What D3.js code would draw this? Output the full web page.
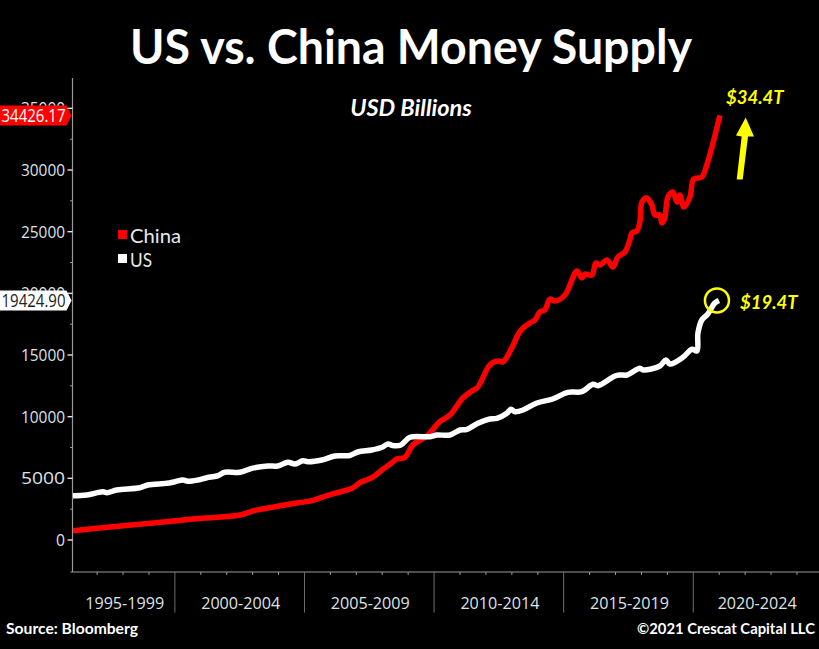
<!DOCTYPE html>
<html>
<head>
<meta charset="utf-8">
<script src="https://cdn.jsdelivr.net/npm/d3@7"></script>
<style>
  html, body { margin:0; padding:0; background:#000; overflow:hidden; }
  svg { display:block; }
  .tick-label { font-family:"Open Sans",sans-serif; fill:#dfe3e6; }
  .note { font-family:Lato,sans-serif; font-weight:700; fill:#fff; }
  .call { font-family:Lato,sans-serif; font-weight:700; font-style:italic; fill:#ffff00; font-size:18.5px; }
</style>
</head>
<body>
<div id="chart"></div>
<script>
// values, USD billions by decimal year
const chinaYears = [1996.07,1997.61,1999.15,2000.69,2002.51,2003.09,2003.86,2004.63,2005.29,2005.67,2006.17,2006.83,2007.14,2007.60,2007.99,2008.37,2008.56,2008.87,2009.18,2009.72,2010.22,2010.61,2011.11,2011.46,2011.69,2012.15,2012.46,2012.65,2013.00,2013.23,2013.43,2013.70,2013.89,2014.08,2014.27,2014.47,2014.66,2015.05,2015.24,2015.51,2015.70,2015.82,2016.09,2016.24,2016.40,2016.67,2016.90,2017.09,2017.36,2017.55,2017.63,2017.82,2017.94,2018.02,2018.21,2018.40,2018.52,2018.71,2018.79,2018.90,2019.02,2019.21,2019.37,2019.48,2019.64,2019.87,2020.02,2020.33,2020.52,2020.72,2021.03];
const chinaValues = [750,1080,1378,1703,2027,2400,2700,2976,3186,3462,3786,4192,4646,5051,5676,6268,6567,6700,7703,8432,9592,10135,11513,12081,12405,14189,14513,14432,15567,16621,17189,17594,17838,18486,18648,19540,19378,19865,20675,21810,21243,21567,21486,22459,22297,22702,22135,22945,23351,24324,24892,25054,25783,27405,27729,27162,26351,26351,25702,26108,27810,28216,27405,27973,27000,27810,29270,29432,30405,31864,34426.17];

const usYears = [1996.07,1996.60,1997.22,1997.38,1997.76,1998.65,1998.96,1999.69,2000.00,2000.31,2000.50,2000.89,2001.23,2001.62,2001.93,2002.51,2002.97,2003.59,2003.97,2004.36,2004.63,2004.94,2005.13,2005.67,2006.17,2006.75,2007.06,2007.60,2007.99,2008.22,2008.41,2008.72,2009.07,2009.84,2010.11,2010.61,2011.00,2011.27,2011.69,2012.15,2012.42,2012.81,2012.96,2013.12,2013.43,2013.97,2014.58,2015.16,2015.70,2016.13,2016.32,2016.98,2017.17,2017.44,2017.94,2018.06,2018.71,2018.94,2019.10,2019.60,2019.95,2020.14,2020.18,2020.33,2020.56,2020.83,2020.99];
const usValues = [3592,3649,3916,3835,4054,4240,4459,4597,4727,4865,4759,4865,5051,5189,5489,5489,5813,6000,6000,6300,6162,6430,6349,6486,6811,6851,7135,7297,7516,7784,7662,7703,8327,8376,8513,8513,8919,8976,9462,9811,9867,10273,10597,10403,10540,11108,11432,11975,12024,12624,12510,13297,13378,13378,13921,13784,14108,14594,14270,14813,15462,15324,16784,17838,18324,19216,19424.90];

const yTicks = [0,5000,10000,15000,20000,25000,30000,35000];
const yMinorTicks = [2500,7500,12500,17500,22500,27500,32500];
const periodLabels = ["1995-1999","2000-2004","2005-2009","2010-2014","2015-2019","2020-2024"];
const periodStarts = [1995,2000,2005,2010,2015,2020];
const minorYears = d3.range(1997,2025).filter(d => d % 5 !== 0);

const W = 819, H = 649;
const plot = {left:72.5, right:819, top:78, bottom:572};

const svg = d3.select("#chart").append("svg").attr("width",W).attr("height",H);
svg.append("rect").attr("width",W).attr("height",H).attr("fill","#000");

const x = d3.scaleLinear().domain([1996.05,2024.85]).range([plot.left,plot.right]);
const y = d3.scaleLinear().domain([-2595,37460]).range([plot.bottom,plot.top]);

// Title and footers
svg.append("text").attr("class","note").attr("x",411).attr("y",64)
  .attr("text-anchor","middle").style("font-size","48px")
  .attr("textLength",562).attr("lengthAdjust","spacingAndGlyphs").text("US vs. China Money Supply");
svg.append("text").attr("class","note").attr("x",411).attr("y",116)
  .attr("text-anchor","middle").style("font-size","23.5px").style("font-style","italic").text("USD Billions");
svg.append("text").attr("class","note").attr("x",6).attr("y",634)
  .style("font-size","15.5px").attr("textLength",132).attr("lengthAdjust","spacingAndGlyphs").text("Source: Bloomberg");
svg.append("text").attr("class","note").attr("x",815).attr("y",634)
  .attr("text-anchor","end").style("font-size","14.8px")
  .attr("textLength",178).attr("lengthAdjust","spacingAndGlyphs").text("©2021 Crescat Capital LLC");

// Axes
const axisColor = "#9a9a9a";
svg.append("line").attr("x1",plot.left).attr("x2",plot.left).attr("y1",plot.top).attr("y2",plot.bottom)
  .attr("stroke",axisColor).attr("stroke-width",1.2);
svg.append("line").attr("x1",plot.left-2).attr("x2",plot.right).attr("y1",plot.bottom).attr("y2",plot.bottom)
  .attr("stroke",axisColor).attr("stroke-width",1.2);

svg.selectAll(".yminor").data(yMinorTicks).enter().append("line")
  .attr("x1",plot.left-2.5).attr("x2",plot.left)
  .attr("y1",d=>y(d)).attr("y2",d=>y(d))
  .attr("stroke",axisColor);
svg.selectAll(".ylabel").data(yTicks).enter().append("text")
  .attr("class","tick-label").style("font-size","17px")
  .attr("x",plot.left-7.5).attr("y",d=>y(d)+6)
  .attr("text-anchor","end")
  .attr("textLength",d=>d===0?9:44).attr("lengthAdjust","spacingAndGlyphs")
  .text(d=>d);

svg.selectAll(".xminor").data(minorYears).enter().append("line")
  .attr("x1",d=>x(d)).attr("x2",d=>x(d))
  .attr("y1",plot.bottom).attr("y2",plot.bottom+3)
  .attr("stroke",axisColor);
svg.selectAll(".xmajor").data(periodStarts.slice(1)).enter().append("line")
  .attr("x1",d=>x(d)).attr("x2",d=>x(d))
  .attr("y1",plot.bottom).attr("y2",612.5)
  .attr("stroke","#6e6e6e");
svg.selectAll(".xlabel").data(periodLabels).enter().append("text")
  .attr("class","tick-label").style("font-size","16.5px")
  .attr("x",(d,i)=>(Math.max(x(periodStarts[i]),plot.left)+Math.min(x(periodStarts[i]+5),819))/2+1)
  .attr("y",609).attr("text-anchor","middle")
  .attr("textLength",79).attr("lengthAdjust","spacingAndGlyphs").text(d=>d);

// Lines
const line = d3.line().x(d=>x(d[0])).y(d=>y(d[1])).curve(d3.curveCatmullRom.alpha(0.5));
svg.append("path").datum(d3.zip(chinaYears,chinaValues))
  .attr("fill","none").attr("stroke","#ff0000").attr("stroke-width",5.5)
  .attr("stroke-linejoin","round").attr("d",line);
svg.append("path").datum(d3.zip(usYears,usValues))
  .attr("fill","none").attr("stroke","#ffffff").attr("stroke-width",5.5)
  .attr("stroke-linejoin","round").attr("d",line);

// Value tags on the axis
function tag(value, fill, textFill) {
  const cy = y(value), h = 20, r = plot.left-1;
  svg.append("path")
    .attr("d",`M0,${cy-h/2}H${r-5}L${r},${cy}L${r-5},${cy+h/2}H0Z`)
    .attr("fill",fill);
  svg.append("text").attr("x",r-6).attr("y",cy+6.5).attr("text-anchor","end")
    .style("font-family",'"Open Sans",sans-serif').style("font-size","17.5px")
    .attr("textLength",64).attr("lengthAdjust","spacingAndGlyphs")
    .attr("fill",textFill).text(d3.format(".2f")(value));
}
tag(chinaValues[chinaValues.length-1],"#ff0000","#fff");
tag(usValues[usValues.length-1],"#ffffff","#222");

// major y ticks stay visible beside the tags
svg.selectAll(".ytick").data(yTicks).enter().append("line")
  .attr("x1",plot.left-5).attr("x2",plot.left)
  .attr("y1",d=>y(d)).attr("y2",d=>y(d))
  .attr("stroke","#e6e6e6").attr("stroke-width",1.4);

// Legend
[["China","#ff0000",230,242.5,51],["US","#ffffff",254,267,22]].forEach(([name,color,boxY,textY,len])=>{
  svg.append("rect").attr("x",118).attr("y",boxY).attr("width",9).attr("height",9).attr("fill",color);
  svg.append("text").attr("x",130).attr("y",textY)
    .style("font-family","Lato,sans-serif").style("font-size","20px")
    .attr("fill","#e6e9ec").attr("textLength",len).attr("lengthAdjust","spacingAndGlyphs").text(name);
});

// Callouts
svg.append("text").attr("class","call").attr("x",726).attr("y",104).text("$34.4T");
svg.append("text").attr("class","call").attr("x",740).attr("y",309).text("$19.4T");
svg.append("circle").attr("cx",x(2020.99)-2).attr("cy",y(19424.90)).attr("r",12)
  .attr("fill","none").attr("stroke","#ffff00").attr("stroke-width",2.5);
svg.append("path").attr("fill","#ffff00")
  .attr("d","M736.7,179.5L741.7,136.5L736,135.5L745.7,117.5L754,136.5L748,136.5L742.7,179.5Z");
</script>
</body>
</html>
